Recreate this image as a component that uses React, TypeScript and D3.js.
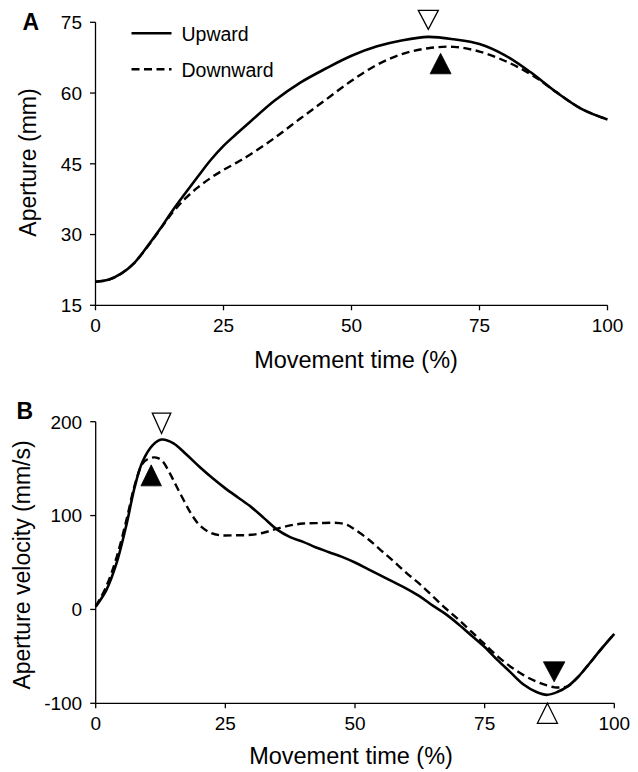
import React from "react";
import * as d3 from "d3";

// Panel A: grip aperture over normalised movement time
const apertureTime = [0, 2.5, 5, 7.5, 10, 12.5, 15, 17.5, 20, 22.5, 25, 27.5, 30, 35, 40, 45, 50, 55, 60, 65, 70, 75, 80, 85, 90, 95, 100];
const apertureUpward = [20.0, 20.4, 21.7, 23.9, 27.3, 31.0, 35.0, 38.7, 42.3, 45.8, 48.8, 51.3, 53.7, 58.4, 62.2, 65.2, 67.9, 69.9, 71.2, 71.9, 71.4, 70.4, 68.0, 64.4, 60.2, 56.6, 54.4];
const apertureDownward = [20.0, 20.4, 21.7, 23.9, 27.2, 30.9, 34.6, 37.6, 40.0, 42.0, 43.7, 45.2, 46.8, 50.5, 54.6, 58.6, 62.6, 66.0, 68.3, 69.5, 69.8, 68.8, 66.8, 64.0, 60.2, 56.6, 54.4];

// Panel B: aperture velocity over normalised movement time
const velUpTime = [0, 2, 4, 6, 7.5, 9, 11, 12.7, 15, 17.5, 20, 22.5, 25, 27.5, 30, 32.5, 35, 37.5, 40, 42.5, 45, 47.5, 50, 52.5, 55, 57.5, 60, 62.5, 65, 67.5, 70, 72.5, 75, 77.5, 80, 82.5, 85, 87, 89, 91, 93, 95, 97.5, 100];
const velocityUpward = [3, 20, 49, 92, 130, 157, 175, 181, 177, 165, 152, 140, 129, 119, 109, 97, 85, 77, 72, 66, 61, 56, 50, 43, 36, 29, 22, 14, 4, -5, -16, -28, -40, -54, -67, -80, -88, -91, -88, -82, -72, -59, -42, -26];
const velDownTime = [0, 2, 4, 6, 7.5, 9, 10, 11.4, 12.7, 14.3, 15.5, 17, 18.5, 20, 22, 24, 27, 30, 32.5, 35, 37.5, 40, 43, 47, 48.5, 50, 52.5, 55, 57.5, 60, 62.5, 65, 67.5, 70, 72.5, 75, 77.5, 80, 82.5, 85, 87, 88.5, 90, 91, 93, 95, 97.5, 100];
const velocityDownward = [3, 24, 55, 97, 132, 155, 160, 162, 159, 145, 132, 116, 101, 90, 82, 79, 79, 79.5, 82, 86, 89.5, 91.5, 92, 92, 90, 85, 75, 63, 51, 38.5, 27, 14, 1, -11, -24, -37, -50, -61, -70, -77, -81, -83, -83, -82, -72, -59, -42, -26];

const xTicks = [0, 25, 50, 75, 100];
const apertureTicks = [15, 30, 45, 60, 75];
const velocityTicks = [-100, 0, 100, 200];
const seriesNames = ["Upward", "Downward"];

// Event markers placed relative to the extremum they flag
type Marker = { t: number; v: number; panel: "A" | "B"; dir: "down" | "up"; filled: boolean; gap: number; w: number; h: number };
const markers: Marker[] = [
  { t: 65.0, v: 71.9, panel: "A", dir: "down", filled: false, gap: 7.5, w: 20, h: 19 },
  { t: 67.4, v: 69.8, panel: "A", dir: "up", filled: true, gap: 6.5, w: 21, h: 20.5 },
  { t: 12.7, v: 181, panel: "B", dir: "down", filled: false, gap: 6, w: 18.5, h: 20.5 },
  { t: 10.7, v: 162, panel: "B", dir: "up", filled: true, gap: 7.5, w: 20.5, h: 21 },
  { t: 88.4, v: -83, panel: "B", dir: "down", filled: true, gap: 5.5, w: 21.5, h: 20 },
  { t: 87.1, v: -100, panel: "B", dir: "up", filled: false, gap: 0, w: 20, h: 20 },
];

const FONT = "'Liberation Sans', Arial, Helvetica, sans-serif";
const DASH = "8,4.5";

const xA = d3.scaleLinear().domain([0, 100]).range([95.5, 607.5]);
const yA = d3.scaleLinear().domain([15, 75]).range([305.3, 22.3]);
const xB = d3.scaleLinear().domain([0, 100]).range([95.7, 614.3]);
const yB = d3.scaleLinear().domain([-100, 200]).range([703.3, 421.7]);

function linePath(xs: number[], ys: number[], x: d3.ScaleLinear<number, number>, y: d3.ScaleLinear<number, number>) {
  const gen = d3
    .line<number>()
    .x((_, i) => x(xs[i]))
    .y((d) => y(d))
    .curve(d3.curveCatmullRom.alpha(0.5));
  return gen(ys) || "";
}

function Axes({
  x,
  y,
  yTicks,
  xLabelY,
  title,
  titleX,
  titleY,
  yTitle,
  yTitleX,
  yTitleY,
}: {
  x: d3.ScaleLinear<number, number>;
  y: d3.ScaleLinear<number, number>;
  yTicks: number[];
  xLabelY: number;
  title: string;
  titleX: number;
  titleY: number;
  yTitle: string;
  yTitleX: number;
  yTitleY: number;
}) {
  const [y0, y1] = y.range();
  const [x0, x1] = x.range();
  return (
    <g fontFamily={FONT} fill="#000">
      <line x1={x0} x2={x0} y1={y0} y2={y1} stroke="#000" strokeWidth={1.3} />
      <line x1={x0} x2={x1} y1={y0} y2={y0} stroke="#000" strokeWidth={1.3} />
      {yTicks.map((t) => (
        <g key={"y" + t}>
          <line x1={x0 - 5.5} x2={x0} y1={y(t)} y2={y(t)} stroke="#000" strokeWidth={1.3} />
          <text x={x0 - 13.5} y={y(t)} dy="0.36em" textAnchor="end" fontSize={19}>
            {t}
          </text>
        </g>
      ))}
      {xTicks.map((t) => (
        <g key={"x" + t}>
          <line x1={x(t)} x2={x(t)} y1={y0} y2={y0 + 5} stroke="#000" strokeWidth={1.3} />
          <text x={x(t)} y={xLabelY} textAnchor="middle" fontSize={19}>
            {t}
          </text>
        </g>
      ))}
      <text x={titleX} y={titleY} textAnchor="middle" fontSize={23.5}>
        {title}
      </text>
      <text
        transform={`translate(${yTitleX},${yTitleY}) rotate(-90)`}
        textAnchor="middle"
        fontSize={23}
      >
        {yTitle}
      </text>
    </g>
  );
}

function Triangle({ m }: { m: Marker }) {
  const x = m.panel === "A" ? xA : xB;
  const y = m.panel === "A" ? yA : yB;
  const cx = x(m.t);
  const vy = y(m.v);
  let d: string;
  if (m.dir === "down") {
    const tip = vy - m.gap;
    d = `M${cx - m.w / 2},${tip - m.h}L${cx + m.w / 2},${tip - m.h}L${cx},${tip}Z`;
  } else {
    const top = vy + m.gap;
    d = `M${cx},${top}L${cx + m.w / 2},${top + m.h}L${cx - m.w / 2},${top + m.h}Z`;
  }
  return (
    <path
      d={d}
      fill={m.filled ? "#000" : "#fff"}
      stroke="#000"
      strokeWidth={m.filled ? 0.8 : 1.3}
      strokeLinejoin="miter"
    />
  );
}

export default function App() {
  return (
    <svg
      width={638}
      height={772}
      viewBox="0 0 638 772"
      style={{ position: "absolute", left: 0, top: 0, background: "#fff" }}
    >
      <rect width={638} height={772} fill="#fff" />

      {/* Panel A */}
      <text x={22.5} y={29.5} fontFamily={FONT} fontWeight="bold" fontSize={23}>
        A
      </text>
      <Axes
        x={xA}
        y={yA}
        yTicks={apertureTicks}
        xLabelY={331.5}
        title="Movement time (%)"
        titleX={356}
        titleY={368}
        yTitle="Aperture (mm)"
        yTitleX={36}
        yTitleY={162.5}
      />
      <path d={linePath(apertureTime, apertureDownward, xA, yA)} fill="none" stroke="#000" strokeWidth={2.4} strokeDasharray={DASH} />
      <path d={linePath(apertureTime, apertureUpward, xA, yA)} fill="none" stroke="#000" strokeWidth={2.6} />

      {/* Legend */}
      <g fontFamily={FONT} fontSize={19.5}>
        <line x1={131.5} x2={171.5} y1={33.3} y2={33.3} stroke="#000" strokeWidth={2.6} />
        <text x={181.5} y={40.5}>{seriesNames[0]}</text>
        <line x1={131.5} x2={171.5} y1={69.3} y2={69.3} stroke="#000" strokeWidth={2.4} strokeDasharray={DASH} />
        <text x={181.5} y={76.5}>{seriesNames[1]}</text>
      </g>

      {/* Panel B */}
      <text x={16.5} y={418.5} fontFamily={FONT} fontWeight="bold" fontSize={23}>
        B
      </text>
      <Axes
        x={xB}
        y={yB}
        yTicks={velocityTicks}
        xLabelY={730}
        title="Movement time (%)"
        titleX={351}
        titleY={764}
        yTitle="Aperture velocity (mm/s)"
        yTitleX={30}
        yTitleY={565}
      />
      <path d={linePath(velDownTime, velocityDownward, xB, yB)} fill="none" stroke="#000" strokeWidth={2.4} strokeDasharray={DASH} />
      <path d={linePath(velUpTime, velocityUpward, xB, yB)} fill="none" stroke="#000" strokeWidth={2.6} />

      {markers.map((m, i) => (
        <Triangle key={i} m={m} />
      ))}
    </svg>
  );
}
